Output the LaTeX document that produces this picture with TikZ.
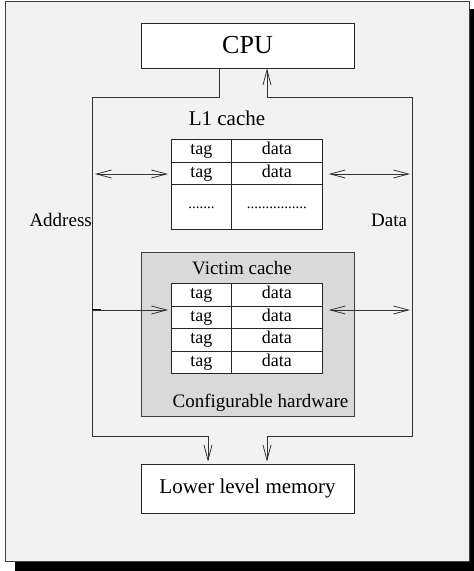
\documentclass[tikz,border=0pt]{standalone}
\usepackage{fontspec}
\setmainfont{Liberation Serif}
\usetikzlibrary{arrows.meta}
\tikzset{
  x=1pt, y=-1pt,
  wire/.style={draw=black!80, line width=0.8pt},
  tipped/.style={wire, arrows={-Straight Barb[length=15pt,width=8pt,line width=0.8pt]}},
  both/.style={wire, arrows={Straight Barb[length=15pt,width=8pt,line width=0.8pt]-Straight Barb[length=15pt,width=8pt,line width=0.8pt]}},
  boxed/.style={draw=black!85, line width=0.8pt, fill=white, inner sep=0pt},
  cell/.style={boxed, anchor=north west, font=\fontsize{18}{20}\selectfont, text height=12pt, text depth=4pt},
  dots/.style={boxed, anchor=north west, font=\fontsize{15}{18}\selectfont, text height=4pt, text depth=0pt},
  lbl/.style={font=\fontsize{19}{22}\selectfont, inner sep=0pt},
}
\begin{document}
\begin{tikzpicture}
\useasboundingbox (0,0) rectangle (474,571);
% drop shadow and background panel
\fill[black] (15,9) rectangle (479,575);
\filldraw[fill=black!5, draw=black!75, line width=0.8pt] (5,1) rectangle (469,561);

% processor and memory
\node[boxed, minimum width=213pt, minimum height=45pt, font=\fontsize{26}{30}\selectfont] (cpu) at (247.5,45.5) {CPU};
\node[boxed, minimum width=213pt, minimum height=49pt, font=\fontsize{21}{24}\selectfont] (mem) at (247.5,488.5) {Lower level memory};

% configurable hardware block
\node[draw=black!75, line width=0.8pt, fill=black!15, minimum width=213pt, minimum height=164pt, inner sep=0pt] (hw) at (247.5,334) {};
\node[lbl] (vlabel) at (242,268) {Victim cache};
\node[lbl] (hwlabel) at (260.5,403) {Configurable hardware};

% L1 cache table
\node[lbl, font=\fontsize{21}{24}\selectfont] (l1label) at (227,118) {L1 cache};
\node[cell, minimum width=60pt, minimum height=23pt] (l1t1) at (171,139) {tag};
\node[cell, minimum width=91pt, minimum height=23pt] (l1d1) at (231,139) {data};
\node[cell, minimum width=60pt, minimum height=22pt] (l1t2) at (171,162) {tag};
\node[cell, minimum width=91pt, minimum height=22pt] (l1d2) at (231,162) {data};
\node[dots, minimum width=60pt, minimum height=45pt] (l1t3) at (171,184) {.......};
\node[dots, minimum width=91pt, minimum height=45pt] (l1d3) at (231,184) {................};

% victim cache table
\foreach \i/\y in {1/283,2/305.5,3/328,4/350.5}{
  \node[cell, minimum width=60pt, minimum height=22.5pt] (vt\i) at (171,\y) {tag};
  \node[cell, minimum width=91pt, minimum height=22.5pt] (vd\i) at (231,\y) {data};
}

% bus corners
\coordinate (aTop) at (92,97);
\coordinate (aBot) at (92,436);
\coordinate (dTop) at (412,97);
\coordinate (dBot) at (412,436);
\node[lbl, anchor=east] (addr) at (92,220) {Address};
\node[lbl, anchor=west] (data) at (371,220) {Data};

% address bus
\draw[wire] (cpu.south -| 219,0) |- (aTop) -- (aBot) -- (208,436) coordinate (aDrop);
\draw[tipped, shorten >=2pt] (aDrop) -- (mem.north -| aDrop);
% data bus
\draw[wire] (267,97) coordinate (dRise) -- (dTop) -- (dBot) -- (267,436) coordinate (dDrop);
\draw[tipped] (dRise) -- (cpu.south -| dRise);
\draw[tipped, shorten >=2pt] (dDrop) -- (mem.north -| dDrop);

% links to the L1 cache
\draw[both, shorten <=3pt, shorten >=3pt] (aTop |- 0,174) -- (l1t2.west |- 0,174);
\draw[both, shorten <=6pt, shorten >=2pt] (l1d2.east |- 0,174) -- (dTop |- 0,174);
% links to the victim cache
\draw[draw=black, line width=1.4pt] (aTop |- 0,310) -- (101,310);
\draw[tipped, shorten >=3pt] (aTop |- 0,310) -- (vt2.west |- 0,310);
\draw[both, shorten <=6pt, shorten >=2pt] (vd2.east |- 0,310) -- (dTop |- 0,310);
\end{tikzpicture}
\end{document}
